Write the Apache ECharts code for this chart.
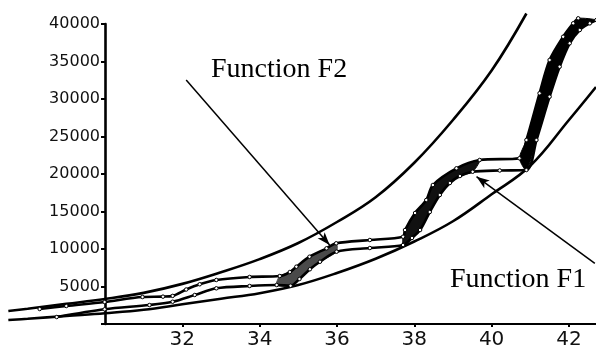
<!DOCTYPE html>
<html>
<head>
<meta charset="utf-8">
<script src="https://cdn.jsdelivr.net/npm/echarts@6/dist/echarts.min.js"></script>
<style>
  html, body { margin: 0; padding: 0; background: #fff; }
  #chart { width: 596px; height: 353px; }
</style>
</head>
<body>
<div id="chart"></div>
<script>
// Lower bounding function F1
const f1X = [27.5, 28, 29, 30, 31, 32, 33, 34, 35, 36, 37, 38, 39, 40, 41, 42, 42.7];
const f1Y = [530, 700, 1070, 1430, 1890, 2630, 3370, 4110, 5200, 6800, 8700, 11000, 13700, 17300, 21100, 27200, 31600];

// Upper bounding function F2
const f2X = [27.5, 28, 29, 30, 31, 32, 33, 34, 35, 36, 37, 38, 39, 40, 40.9];
const f2Y = [1730, 2040, 2680, 3330, 4150, 5350, 6900, 8650, 10800, 13600, 16900, 21500, 27200, 33800, 41400];

// Upper staircase trajectory
const upperX = [28.31, 29.0, 29.99, 30.97, 31.5, 31.75, 32.1, 32.45, 32.88, 33.74, 34.52, 34.78, 34.95, 35.29, 35.73, 35.98,
                36.85, 37.71, 37.76, 38.02, 38.31, 38.48, 39.09, 39.69, 40.72, 40.9, 41.24, 41.5, 41.85, 42.11, 42.24];
const upperY = [2000, 2400, 2930, 3600, 3650, 3750, 4600, 5300, 5870, 6270, 6400, 6930, 7640, 8970, 10090, 10760,
                11200, 11640, 12530, 14800, 16530, 18530, 20760, 21870, 22100, 24530, 30760, 35200, 38300, 40090, 40760];

// Lower staircase trajectory
const lowerX = [28.75, 29.99, 31.15, 31.75, 32.32, 32.88, 33.74, 34.44, 34.8, 35.03, 35.3, 35.56, 35.99, 36.85,
                37.71, 37.94, 38.15, 38.4, 38.66, 38.92, 39.18, 39.51, 40.21, 40.9, 41.16, 41.5, 41.76, 42.02, 42.28, 42.54, 42.71];
const lowerY = [930, 1960, 2530, 2970, 3870, 4760, 5070, 5200, 5100, 6000, 7300, 8300, 9640, 10130,
                10530, 11470, 12530, 14930, 17200, 18800, 19730, 20300, 20470, 20530, 24530, 30310, 34310, 37430, 39200, 40090, 40530];

// Rising sections filled between the two trajectories: [upper from, upper to, lower from, lower to]
const bandRanges = [
  [34.52, 35.98, 34.44, 35.99],
  [37.71, 39.69, 37.71, 39.51],
  [40.72, 42.24, 40.90, 42.71]
];
const bandColors = ['#4a4a4a', '#111', '#000'];

// Axis ticks
const xTicks = [32, 34, 36, 38, 40, 42];
const yTicks = [5000, 10000, 15000, 20000, 25000, 30000, 35000, 40000];

// Callout arrows (tail, head) in data units
const arrowF2 = [[32.10, 32530], [35.81, 10530]];
const arrowF1 = [[42.67, 8090], [39.61, 19640]];

const zip = (xs, ys) => xs.map((x, i) => [x, ys[i]]);
const upper = zip(upperX, upperY);
const lower = zip(lowerX, lowerY);

const chart = echarts.init(document.getElementById('chart'), null, { renderer: 'canvas' });

// Drawing area: the curves run left of the y axis, so they live on a wider
// hidden grid with the same scale as the visible axes.
const X_MIN_DRAW = 27.5;
const X_MIN_AXIS = 30;
const X_MAX = 42.7;
const AXIS_LEFT = 105;
const PLOT_RIGHT = 596;
const pxPerUnit = (PLOT_RIGHT - AXIS_LEFT) / (X_MAX - X_MIN_AXIS);
const drawLeft = AXIS_LEFT - (X_MIN_AXIS - X_MIN_DRAW) * pxPerUnit;

const curveStyle = { color: '#000', width: 2.6 };
const traceSymbol = {
  symbol: 'circle',
  symbolSize: 3.5,
  itemStyle: { color: '#fff', borderColor: '#000', borderWidth: 1 }
};

const hiddenAxis = {
  show: false,
  type: 'value',
  splitLine: { show: false }
};

chart.setOption({
  animation: false,
  backgroundColor: '#fff',
  grid: [
    { left: drawLeft, right: 0, top: 24, bottom: 29, containLabel: false },
    { left: AXIS_LEFT, right: 0, top: 24, bottom: 29, containLabel: false }
  ],
  xAxis: [
    Object.assign({ gridIndex: 0, min: X_MIN_DRAW, max: X_MAX }, hiddenAxis),
    {
      gridIndex: 1,
      type: 'value',
      min: X_MIN_AXIS,
      max: X_MAX,
      splitLine: { show: false },
      axisLine: { show: true, lineStyle: { color: '#000', width: 2 } },
      axisTick: { show: true, customValues: xTicks, length: 3, lineStyle: { color: '#000', width: 2 } },
      axisLabel: {
        customValues: xTicks,
        margin: 6,
        color: '#111',
        fontFamily: 'DejaVu Sans',
        fontSize: 20
      }
    }
  ],
  yAxis: [
    Object.assign({ gridIndex: 0, min: 0, max: 40000 }, hiddenAxis),
    {
      gridIndex: 1,
      type: 'value',
      min: 0,
      max: 40000,
      interval: 5000,
      splitLine: { show: false },
      axisLine: { show: true, lineStyle: { color: '#000', width: 2.6 } },
      axisTick: { show: true, length: 4, lineStyle: { color: '#000', width: 2 } },
      axisLabel: {
        customValues: yTicks,
        formatter: v => String(v),
        margin: 5,
        color: '#111',
        fontFamily: 'DejaVu Sans',
        fontSize: 16
      }
    }
  ],
  graphic: [
    {
      type: 'text',
      left: 211, top: 56,
      style: { text: 'Function F2', fill: '#000', font: '28px "Liberation Serif"' }
    },
    {
      type: 'text',
      left: 450, top: 266,
      style: { text: 'Function F1', fill: '#000', font: '28px "Liberation Serif"' }
    }
  ],
  series: [
    {
      type: 'custom',
      xAxisIndex: 0, yAxisIndex: 0,
      clip: false,
      silent: true,
      z: 1,
      data: bandRanges.map((r, i) => [i]),
      renderItem: (params, api) => {
        const r = bandRanges[params.dataIndex];
        const top = upper.filter(p => p[0] >= r[0] - 1e-9 && p[0] <= r[1] + 1e-9);
        const bottom = lower.filter(p => p[0] >= r[2] - 1e-9 && p[0] <= r[3] + 1e-9).reverse();
        const pts = top.concat(bottom).map(p => api.coord(p));
        return {
          type: 'polygon',
          shape: { points: pts, smooth: 0.25 },
          style: { fill: bandColors[params.dataIndex], stroke: bandColors[params.dataIndex], lineWidth: 1 }
        };
      }
    },
    {
      name: 'F1',
      type: 'line',
      xAxisIndex: 0, yAxisIndex: 0,
      data: zip(f1X, f1Y),
      smooth: 0.4,
      clip: false,
      showSymbol: false,
      z: 3,
      lineStyle: curveStyle
    },
    {
      name: 'F2',
      type: 'line',
      xAxisIndex: 0, yAxisIndex: 0,
      data: zip(f2X, f2Y),
      smooth: 0.4,
      clip: false,
      showSymbol: false,
      z: 3,
      lineStyle: curveStyle,
      markLine: {
        silent: true,
        symbol: ['none', 'arrow'],
        symbolSize: [7, 13],
        label: { show: false },
        lineStyle: { color: '#000', width: 1.5, type: 'solid' },
        data: [
          [{ coord: arrowF2[0] }, { coord: arrowF2[1] }],
          [{ coord: arrowF1[0] }, { coord: arrowF1[1] }]
        ]
      }
    },
    Object.assign({
      name: 'upper',
      type: 'line',
      xAxisIndex: 0, yAxisIndex: 0,
      data: upper,
      smooth: 0.3,
      clip: false,
      showSymbol: true,
      z: 4,
      lineStyle: { color: '#000', width: 2.6 }
    }, traceSymbol),
    Object.assign({
      name: 'lower',
      type: 'line',
      xAxisIndex: 0, yAxisIndex: 0,
      data: lower,
      smooth: 0.3,
      clip: false,
      showSymbol: true,
      z: 4,
      lineStyle: { color: '#000', width: 2.6 }
    }, traceSymbol)
  ]
});
</script>
</body>
</html>
